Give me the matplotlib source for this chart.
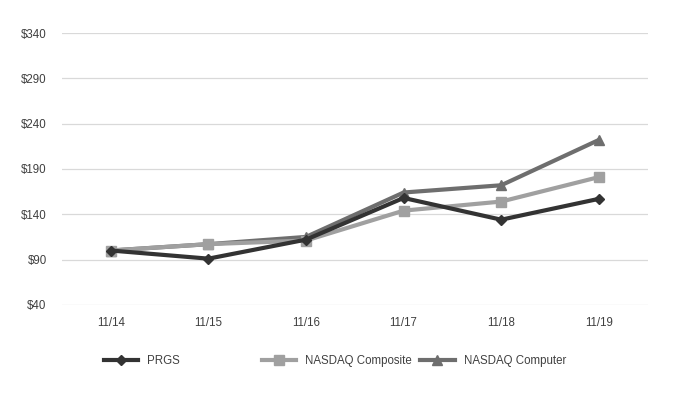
import matplotlib
matplotlib.use("Agg")
import matplotlib.pyplot as plt
from matplotlib.lines import Line2D

plt.rcParams['font.family'] = ['Liberation Sans', 'DejaVu Sans']

categories = ["11/14", "11/15", "11/16", "11/17", "11/18", "11/19"]
prgs = [100, 91, 112, 158, 134, 157]
nasdaq_composite = [100, 107, 111, 144, 154, 181]
nasdaq_computer = [100, 107, 115, 164, 172, 222]
yticks = [40, 90, 140, 190, 240, 290, 340]

fig = plt.figure(figsize=(6.81, 3.98), dpi=100)
ax = fig.add_axes([0.091, 0.234, 0.86, 0.683])

x = list(range(len(categories)))
c_prgs = "#333333"
c_comp = "#a0a0a0"
c_cmpt = "#6e6e6e"
lw = 3.0

ax.plot(x, nasdaq_computer, color=c_cmpt, lw=lw, marker="^", ms=7, zorder=3)
ax.plot(x, nasdaq_composite, color=c_comp, lw=lw, marker="s", ms=6.5, zorder=4)
ax.plot(x, prgs, color=c_prgs, lw=lw, marker="D", ms=5.5, zorder=5)

ax.set_xlim(-0.5, len(categories) - 0.5)
ax.set_ylim(40, 340)
ax.set_yticks(yticks)
ax.set_yticklabels([f"${v}" for v in yticks], fontsize=8.3, color="#404040")
ax.set_xticks(x)
ax.set_xticklabels(categories, fontsize=8.3, color="#404040")
ax.tick_params(axis="both", length=0)
ax.tick_params(axis="y", pad=11)
ax.tick_params(axis="x", pad=9)
ax.grid(axis="y", color="#d9d9d9", lw=0.9, zorder=0)
ax.set_axisbelow(True)
for s in ax.spines.values():
    s.set_visible(False)

entries = [
    ("PRGS", c_prgs, "D", 5.5, 0.152),
    ("NASDAQ Composite", c_comp, "s", 6.5, 0.384),
    ("NASDAQ Computer", c_cmpt, "^", 7, 0.617),
]
for label, col, mk, ms, xpos in entries:
    h = Line2D([0], [0], color=col, lw=lw, marker=mk, ms=ms)
    fig.legend([h], [label], loc="center left", bbox_to_anchor=(xpos, 0.093),
               frameon=False, fontsize=8.3, handlelength=3.0, handletextpad=0.8,
               borderpad=0, borderaxespad=0, labelcolor="#404040")

fig.savefig("out.png", dpi=100)
